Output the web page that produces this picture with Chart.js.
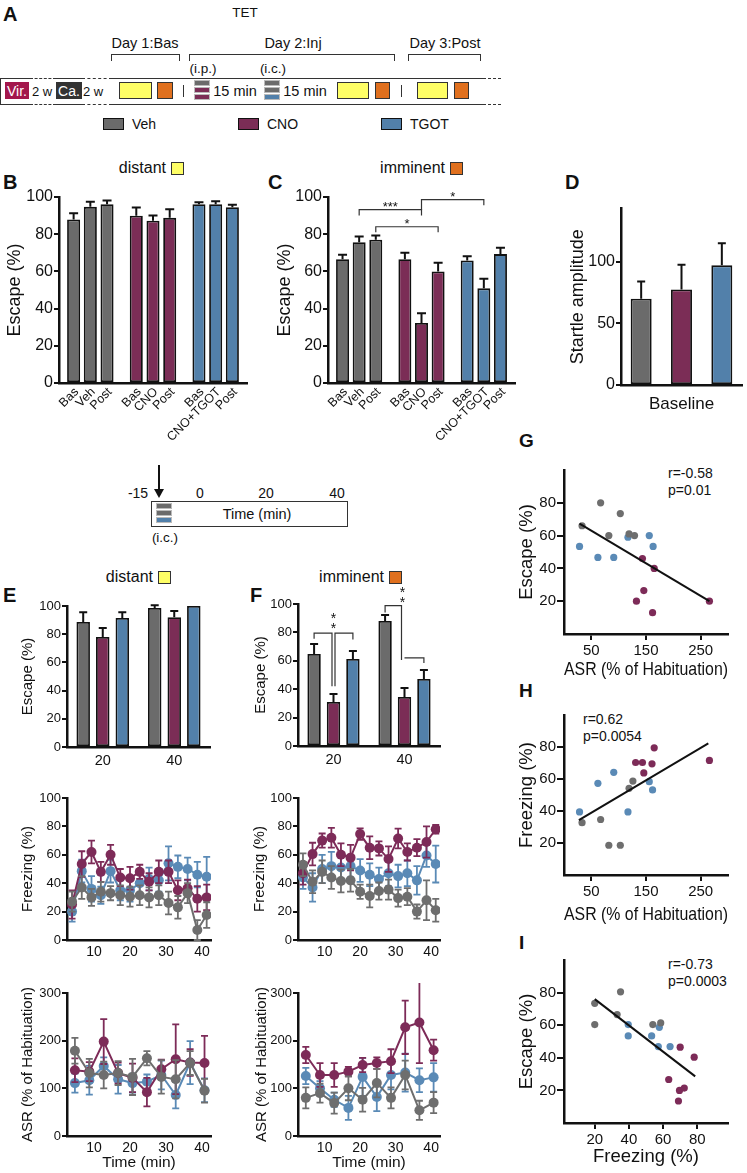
<!DOCTYPE html>
<html><head><meta charset="utf-8"><title>TET figure</title>
<script src="https://cdn.jsdelivr.net/npm/chart.js@4.4.1/dist/chart.umd.min.js"></script>
<style>
html,body{margin:0;padding:0;background:#fff}
body{position:relative;width:747px;height:1173px;overflow:hidden;font-family:'Liberation Sans',Arial,Helvetica,sans-serif;color:#111}
.t{position:absolute;white-space:nowrap;line-height:1}
.b{position:absolute;box-sizing:border-box}
canvas{position:absolute}
</style></head><body>
<script>
// ---- values ----
const groups=['Veh','CNO','TGOT'];
const barTicks=['Bas','Veh','Post','Bas','CNO','Post','Bas','CNO+TGOT','Post'];
const distantDay=[87.9,94.7,96.1, 89.9,87.2,88.8, 96.1,96.1,94.5];
const distantDayErr=[3.4,2.8,2, 4.4,2.8,4.6, 1.1,1.6,1.4];
const imminentDay=[66.5,75.7,77, 66.5,32.3,60, 65.9,50.9,69.3];
const imminentDayErr=[2.5,3,2.3, 3.5,5.2,4.7, 2.3,5.1,3.4];
const startleCats=['Baseline'];
const startle=[70,77.5,97];
const startleErr=[14,20,18];

const blocks=['20','40'];
const distVeh=[88.6,98.6], distVehErr=[7,2];
const distCno=[78,92], distCnoErr=[6.4,4.5];
const distTgot=[91.5,100], distTgotErr=[4,0];
const immVeh=[64.8,88], immVehErr=[7,4.2];
const immCno=[31,34.5], immCnoErr=[5.6,6.3];
const immTgot=[61.3,47.2], immTgotErr=[5.6,6.3];

const timeTicks=[10,20,30,40];
const frzTime=[3.9,6.6,9.3,11.9,14.6,17.3,20,22.7,25.3,28,30.7,33.3,36,38.7,41.3];
const frzDistVeh=[27,37,30,34,33,31.5,30.5,31.5,30,31.5,26,23,33,7,17.6];
const frzDistVehErr=[7,8,6,7,5,7,7,7,7,7,8,8,7,7,9];
const frzDistCno=[25,53.5,62,48,60,44,43.5,48,41,48,48,35,36.5,29,30];
const frzDistCnoErr=[10,9,8,7,7,6,8,5,6,8,8,7,6,9,9];
const frzDistTgot=[20,48.5,36,31.5,48.5,35,35,40,43,42,54,51.5,50,46,44.5];
const frzDistTgotErr=[7,8,9,6,8,7,8,8,8,8,12,8,8,9,14];
const frzImmVeh=[53,41,48,44,41.5,42,34,31,34.5,35.5,29.5,30.5,20,28,21];
const frzImmVehErr=[8,8,8,8,8,8,5,8,6,7,6,6,5,14,8];
const frzImmCno=[47,60.5,70,72,60,58,74.6,65,64.5,57,71.5,62,65,69,78];
const frzImmCnoErr=[8,8,5,7,8,9,4,8,5,9,7,6,6,11,3];
const frzImmTgot=[44,37,50,52,51,52,49,46,43,47,45,47,42,59.5,53.5];
const frzImmTgotErr=[8,10,10,10,9,8,8,8,8,9,8,9,10,8,13];

const asrTime=[4.7,8.7,12.7,16.7,20.7,24.7,28.7,32.7,36.7,40.7];
const asrDistVeh=[179,132,128,132,124,163,124,119,153,95];
const asrDistVehErr=[27,30,28,25,38,15,35,40,25,25];
const asrDistCno=[138,135,198,132,122,92,140,161,154,153];
const asrDistCnoErr=[25,20,47,22,30,30,20,73,28,57];
const asrDistTgot=[111,117,147,119,111,114,128,86,154,96];
const asrDistTgotErr=[20,30,18,30,20,15,30,28,45,25];
const asrImmVeh=[80,90,69,100,76,111,80,128,54,70];
const asrImmVehErr=[22,20,22,25,25,30,22,30,20,22];
const asrImmCno=[170,128,128,135,149,153,157,228,238,180];
const asrImmCnoErr=[17,25,25,10,15,12,25,56,85,22];
const asrImmTgot=[126,100,76,59,124,82,128,133,117,123];
const asrImmTgotErr=[17,15,15,25,40,30,30,40,25,30];

// scatter: [x, y]
const gVeh=[[33,66],[67,80],[82,60],[103,73.4],[119,61],[129,60]];
const gTgot=[[28.4,53.4],[62,46.7],[91,46.7],[117,59],[156,60],[163,53.4]];
const gCno=[[143.5,46],[165,40],[146,26.5],[132.5,20],[162,13],[266,20]];
const gFit=[[28.4,67.3],[266,20]];
const hVeh=[[33,32.7],[67,34.7],[82,18.6],[103,18.6],[119,54.2],[126,58.7]];
const hTgot=[[28.4,39.4],[62,57.3],[91,64.2],[117,39.4],[156,58.3],[162,53.2]];
const hCno=[[131,70.3],[143.5,70.3],[146,63.8],[161,69.5],[165,79.5],[266,71.6]];
const hFit=[[27.2,34.3],[264,82.2]];
const iVeh=[[20,73.4],[20,60.4],[33.1,66.5],[35.1,80.5],[54,60.4],[58.6,61.4]];
const iTgot=[[39.6,60.4],[39.6,53.4],[53.3,53.4],[57.8,58.7],[57.2,46.9],[64.1,46.9]];
const iCno=[[70,46.5],[78.2,40.4],[63.3,26.7],[69.6,20],[72.4,21.4],[69,13.5]];
const iFit=[[20,76],[78.8,28.6]];

// ---- look ----
const BAR={veh:'#6b6b6b',cno:'#7b2d56',tgot:'#5280aa'};
const PT={veh:'#6e6e6e',cno:'#7d2b58',tgot:'#5a8ab6'};
const INK='#111';
Chart.defaults.font.family="'Liberation Sans', Arial, sans-serif";
Chart.defaults.color=INK;

// ---- html helpers ----
function T(x,y,s,size,al,extra){
  const d=document.createElement('div');d.className='t';d.textContent=s;
  d.style.fontSize=size+'px';d.style.left=x+'px';d.style.top=y+'px';
  d.style.transform=al==='c'?'translate(-50%,-50%)':al==='r'?'translate(-100%,-50%)':'translate(0,-50%)';
  if(extra)Object.assign(d.style,extra);
  document.body.appendChild(d);return d;
}
function R(x1,y1,x2,y2,st){
  const d=document.createElement('div');d.className='b';
  Object.assign(d.style,{left:x1+'px',top:y1+'px',width:(x2-x1)+'px',height:(y2-y1)+'px'},st);
  document.body.appendChild(d);return d;
}
const L=(s)=>({fontWeight:'bold'});

// ---- panel A schematic ----
T(3,14,'A',20,'l',L());
T(245,13,'TET',13.5,'c');
T(145,43,'Day 1:Bas',14.5,'c');T(293,43,'Day 2:Inj',14.5,'c');T(445,43,'Day 3:Post',14.5,'c');
[[111,180],[189,395],[408,481]].forEach(([a,b])=>R(a,54,b,61,{borderTop:'1px solid #333',borderLeft:'1px solid #333',borderRight:'1px solid #333'}));
T(203,69,'(i.p.)',13.5,'c');T(273,69,'(i.c.)',13.5,'c');
[78,104].forEach(y=>{
  R(0,y,30,y+1,{background:'#333'});
  R(30,y,56,y+1,{borderTop:'1px dashed #333'});
  R(56,y,82,y+1,{background:'#333'});
  R(82,y,112,y+1,{borderTop:'1px dashed #333'});
  R(112,y,486,y+1,{background:'#333'});
  R(488,y,501,y+1,{borderTop:'1px dashed #333'});
});
R(0,78,1,105,{background:'#333'});
R(5,82,29,99,{background:'#a3174c'});T(17,90.5,'Vir.',14,'c',{color:'#fff'});
T(42,90.5,'2 w',13,'c');
R(56,82,82,99,{background:'#333'});T(69,90.5,'Ca.',14,'c',{color:'#fff'});
T(93,90.5,'2 w',13,'c');
function day(x1,x2,x3,x4){R(x1,82,x2,99,{background:'#ffff66',border:'1px solid #333'});R(x3,82,x4,99,{background:'#e0701e',border:'1px solid #333'});}
day(119,152,157,173);day(337,369,375,390);day(417,448,454,469);
R(183,85,184,97,{background:'#333'});R(401,85,402,97,{background:'#333'});
function stack(x,y,cols){cols.forEach((c,i)=>R(x,y+i*7,x+16,y+i*7+6,{background:c,border:'1px solid #bbb'}));}
stack(194,80,[BAR.veh,BAR.cno,BAR.cno]);T(235,91,'15 min',14.5,'c');
stack(264,80,[BAR.veh,BAR.veh,BAR.tgot]);T(305,91,'15 min',14.5,'c');
[[103,BAR.veh,'Veh'],[238,BAR.cno,'CNO'],[381,BAR.tgot,'TGOT']].forEach(([x,c,s])=>{R(x,118,x+21,130,{background:c,border:'1.5px solid #111'});T(x+29,124,s,14,'l');});

// ---- timeline schematic ----
R(158,465,160,492,{background:'#111'});
R(154,489,164,498,{borderLeft:'5px solid transparent',borderRight:'5px solid transparent',borderTop:'9px solid #111'});
T(138,493,'-15',14,'c');T(200,493,'0',14,'c');T(266,493,'20',14,'c');T(337,493,'40',14,'c');
R(151,501,348,527,{border:'1px solid #333'});
stack(156,503,[BAR.veh,BAR.veh,BAR.tgot]);
T(257,514,'Time (min)',14.5,'c');T(165,538,'(i.c.)',13.5,'c');

// ---- titles / letters ----
T(3,182,'B',20,'l',L());T(268,182,'C',20,'l',L());T(565,182,'D',20,'l',L());
T(3,595,'E',20,'l',L());T(250,595,'F',20,'l',L());
T(519,440,'G',19,'l',L());T(519,690,'H',19,'l',L());T(519,942,'I',19,'l',L());
function tag(xEnd,y,s,col){T(xEnd,y,s,16,'r');R(xEnd+5,y-6.5,xEnd+18,y+6.5,{background:col,border:'1px solid #333'});}
tag(166,168,'distant','#ffff66');tag(445,168,'imminent','#e0701e');
tag(153,577,'distant','#ffff66');tag(384,577,'imminent','#e0701e');
T(668,473,'r=-0.58',14,'l');T(668,490,'p=0.01',14,'l');
T(583,719,'r=0.62',14,'l');T(583,736,'p=0.0054',14,'l');
T(668,964,'r=-0.73',14,'l');T(668,981,'p=0.0003',14,'l');

// ---- chart plugins ----
function drawErr(chart,index,meta,o,both){
  const ds=chart.data.datasets[index];if(!ds.err)return;
  const ctx=chart.ctx,ys=chart.scales.y,hw=o.cap/2;
  ctx.save();ctx.strokeStyle=both?ds.borderColor:INK;ctx.lineWidth=o.lw;
  meta.data.forEach((el,i)=>{
    const e=ds.err[i];if(!e)return;
    const raw=ds.data[i],v=typeof raw==='object'?raw.y:raw;
    const yt=ys.getPixelForValue(v+e),yb=both?ys.getPixelForValue(v-e):el.y;
    ctx.beginPath();ctx.moveTo(el.x,yb);ctx.lineTo(el.x,yt);
    ctx.moveTo(el.x-hw,yt);ctx.lineTo(el.x+hw,yt);
    if(both){ctx.moveTo(el.x-hw,yb);ctx.lineTo(el.x+hw,yb);}
    ctx.stroke();
  });
  ctx.restore();
}
const errBars={id:'errBars',
  beforeDatasetDraw(c,a,o){if(o.both)drawErr(c,a.index,a.meta,o,true);},
  afterDatasetDraw(c,a,o){if(!o.both)drawErr(c,a.index,a.meta,o,false);}};
const barLabels={id:'barLabels',afterDraw(chart,a,o){
  const ctx=chart.ctx,y0=chart.chartArea.bottom;
  ctx.save();ctx.font=o.size+"px 'Liberation Sans', Arial";ctx.fillStyle=INK;ctx.textAlign='right';ctx.textBaseline='middle';
  chart.data.datasets.forEach((ds,j)=>chart.getDatasetMeta(j).data.forEach((bar,i)=>{
    ctx.save();ctx.translate(bar.x+o.dx,y0+o.dy);ctx.rotate(-Math.PI/4);ctx.fillText(o.labels[i*3+j],0,0);ctx.restore();
  }));
  ctx.restore();
}};
const sig={id:'sig',afterDatasetsDraw(chart,a,o){
  const ctx=chart.ctx,ys=chart.scales.y;
  const px=p=>chart.getDatasetMeta(p[1]).data[p[0]].x+(p[2]||0);
  ctx.save();ctx.strokeStyle='#333';ctx.lineWidth=1.2;
  o.brackets.forEach(b=>{
    const xa=px(b.a),xb=px(b.b),yt=ys.getPixelForValue(b.top);
    ctx.beginPath();ctx.moveTo(xa,ys.getPixelForValue(b.endA));ctx.lineTo(xa,yt);ctx.lineTo(xb,yt);ctx.lineTo(xb,ys.getPixelForValue(b.endB));ctx.stroke();
  });
  ctx.fillStyle=INK;ctx.font=o.size+"px 'Liberation Sans', Arial";ctx.textAlign='center';ctx.textBaseline='alphabetic';
  o.stars.forEach(s=>{
    const x=s.b?(px(s.a)+px(s.b))/2:px(s.a);
    ctx.fillText(s.text,x,ys.getPixelForValue(s.v)+o.size*0.58);
  });
  ctx.restore();
}};

// ---- chart helpers ----
function mk(a,cfg){
  const c=document.createElement('canvas');
  const W=a.r-a.l+a.yw+a.pr,H=a.b-a.t+a.pt+a.xh;
  c.width=W;c.height=H;
  Object.assign(c.style,{left:(a.l-a.yw)+'px',top:(a.t-a.pt)+'px',width:W+'px',height:H+'px'});
  document.body.appendChild(c);
  const op=cfg.options;
  op.responsive=false;op.animation=false;op.events=[];
  op.layout={padding:{top:a.pt,right:a.pr,left:0,bottom:0}};
  op.plugins=Object.assign({legend:{display:false},tooltip:{enabled:false}},op.plugins||{});
  op.scales.x.afterFit=s=>{s.height=a.xh;};
  op.scales.y.afterFit=s=>{s.width=a.yw;};
  return new Chart(c,cfg);
}
function yAx(min,max,step,title,tsz,fsz,tl,ticks){
  return {min,max,
    ticks:{stepSize:step,font:{size:tsz},padding:1,color:INK},
    afterBuildTicks:ticks?(s=>{s.ticks=ticks.map(v=>({value:v}));}):undefined,
    grid:{drawOnChartArea:false,tickLength:tl||5,color:INK,lineWidth:2},
    border:{color:INK,width:2.5},
    title:{display:!!title,text:title,font:{size:fsz},padding:0,color:INK}};
}
function xCat(show,tsz,pad){
  return {grid:{display:false,drawTicks:false},border:{color:INK,width:2.5},
    ticks:{display:show,font:{size:tsz||14},padding:pad||4,color:INK,maxRotation:0}};
}
function xLin(min,max,ticks,tsz,pad,title,fsz,tl){
  return {type:'linear',min,max,afterBuildTicks:s=>{s.ticks=ticks.map(v=>({value:v}));},
    grid:{display:!!tl,drawOnChartArea:false,drawTicks:!!tl,tickLength:tl||0,color:INK,lineWidth:2},
    border:{color:INK,width:2.5},
    ticks:{font:{size:tsz},padding:pad,color:INK,maxRotation:0},
    title:{display:!!title,text:title,font:{size:fsz},padding:0,color:INK}};
}
const pick=(arr,j)=>[0,1,2].map(g=>arr[g*3+j]);
const barStyle={borderColor:INK,borderWidth:1.8,borderSkipped:false};

// ---- B and C: day bars ----
function dayBars(a,vals,errs,opts){
  return mk(a,{type:'bar',
    data:{labels:groups,datasets:[0,1,2].map(j=>Object.assign({data:pick(vals,j),err:pick(errs,j),
      backgroundColor:[BAR.veh,BAR.cno,BAR.tgot],categoryPercentage:0.8,barPercentage:0.78},barStyle))},
    options:{scales:{x:xCat(false),y:yAx(0,100,20,'Escape (%)',16,18)},
      plugins:Object.assign({errBars:{both:false,cap:9,lw:2},barLabels:{labels:barTicks,size:12.5,dx:3,dy:7}},opts||{})},
    plugins:[errBars,barLabels].concat(opts?[sig]:[])});
}
dayBars({l:59,t:197,r:247,b:383,yw:55,xh:62,pt:12,pr:5},distantDay,distantDayErr);
dayBars({l:328,t:197,r:515,b:383,yw:54,xh:62,pt:22,pr:5},imminentDay,imminentDayErr,
  {sig:{size:13,
    brackets:[{a:[0,1],b:[1,1],top:93.2,endA:90,endB:90},
              {a:[0,2],b:[1,2],top:84,endA:81,endB:81},
              {a:[1,1],b:[2,1],top:98.6,endA:93,endB:95.5}],
    stars:[{a:[0,1],b:[1,1],v:96.5,text:'***'},{a:[0,2],b:[1,2],v:87.4,text:'*'},{a:[1,1],b:[2,1],v:101.8,text:'*'}]}});

// ---- D: startle ----
mk({l:621,t:208,r:742,b:385,yw:54,xh:32,pt:10,pr:4},{type:'bar',
  data:{labels:startleCats,datasets:[BAR.veh,BAR.cno,BAR.tgot].map((c,j)=>Object.assign({data:[startle[j]],err:[startleErr[j]],
    backgroundColor:c,categoryPercentage:1,barPercentage:0.52},barStyle))},
  options:{scales:{x:xCat(true,17,9),y:yAx(0,143,50,'Startle amplitude',16,18,5,[0,50,100])},
    plugins:{errBars:{both:false,cap:8,lw:2}}},
  plugins:[errBars]});

// ---- E and F: block bars ----
function blockBars(a,sets,opts){
  return mk(a,{type:'bar',
    data:{labels:blocks,datasets:sets.map(([v,e,c])=>Object.assign({data:v,err:e,backgroundColor:c,
      categoryPercentage:0.82,barPercentage:0.69},barStyle))},
    options:{scales:{x:xCat(true,14.5,5),y:yAx(0,100,20,'Escape (%)',13,15)},
      plugins:Object.assign({errBars:{both:false,cap:8,lw:2}},opts||{})},
    plugins:[errBars].concat(opts?[sig]:[])});
}
blockBars({l:67,t:606,r:210,b:747,yw:48,xh:28,pt:10,pr:5},
  [[distVeh,distVehErr,BAR.veh],[distCno,distCnoErr,BAR.cno],[distTgot,distTgotErr,BAR.tgot]]);
blockBars({l:298,t:604,r:440,b:746,yw:46,xh:28,pt:26,pr:5},
  [[immVeh,immVehErr,BAR.veh],[immCno,immCnoErr,BAR.cno],[immTgot,immTgotErr,BAR.tgot]],
  {sig:{size:14,
    brackets:[{a:[0,0],b:[0,1,-1.5],top:79.5,endA:75.5,endB:42},
              {a:[0,1,1.5],b:[0,2],top:79.5,endA:42,endB:75},
              {a:[1,0],b:[1,1,-3],top:98.8,endA:94,endB:60.5},
              {a:[1,1,0],b:[1,2],top:62,endA:62,endB:58.5}],
    stars:[{a:[0,1],v:92.3,text:'*'},{a:[0,1],v:85.2,text:'*'},
           {a:[1,1,-2],v:110.6,text:'*'},{a:[1,1,-2],v:103.5,text:'*'}]}});

// ---- time courses ----
function lineDs(xs,ys,errs,col){
  return {data:xs.map((x,i)=>({x,y:ys[i]})),err:errs,borderColor:col,backgroundColor:col,
    pointBackgroundColor:col,pointRadius:5,pointBorderWidth:0,borderWidth:2,tension:0};
}
function course(a,xs,sets,max,step,title,xTitle){
  return mk(a,{type:'line',
    data:{datasets:sets.map(([v,e,c])=>lineDs(xs,v,e,c))},
    options:{scales:{x:xLin(2.5,42.5,timeTicks,14,4,xTitle,15.5),y:yAx(0,max,step,title,13,15)},
      plugins:{errBars:{both:true,cap:7,lw:1.8}}},
    plugins:[errBars]});
}
course({l:67,t:798,r:211,b:940,yw:48,xh:28,pt:10,pr:8},frzTime,
  [[frzDistVeh,frzDistVehErr,PT.veh],[frzDistCno,frzDistCnoErr,PT.cno],[frzDistTgot,frzDistTgotErr,PT.tgot]],100,20,'Freezing (%)');
course({l:298,t:798,r:440,b:940,yw:47,xh:28,pt:10,pr:8},frzTime,
  [[frzImmVeh,frzImmVehErr,PT.veh],[frzImmCno,frzImmCnoErr,PT.cno],[frzImmTgot,frzImmTgotErr,PT.tgot]],100,20,'Freezing (%)');
course({l:67,t:993,r:211,b:1136,yw:48,xh:36,pt:10,pr:8},asrTime,
  [[asrDistVeh,asrDistVehErr,PT.veh],[asrDistCno,asrDistCnoErr,PT.cno],[asrDistTgot,asrDistTgotErr,PT.tgot]],300,100,'ASR (% of Habituation)','Time (min)');
course({l:298,t:993,r:440,b:1136,yw:45,xh:36,pt:10,pr:8},asrTime,
  [[asrImmVeh,asrImmVehErr,PT.veh],[asrImmCno,asrImmCnoErr,PT.cno],[asrImmTgot,asrImmTgotErr,PT.tgot]],300,100,'ASR (% of Habituation)','Time (min)');

// ---- G, H, I: correlations ----
const pts=(arr)=>arr.map(([x,y])=>({x,y}));
function corr(a,sets,fit,xmin,xmax,xticks,yTitle,xTitle){
  return mk(a,{type:'scatter',
    data:{datasets:[{type:'line',data:pts(fit),borderColor:INK,borderWidth:2,pointRadius:0,showLine:true}]
      .concat(sets.map(([d,c])=>({data:pts(d),backgroundColor:c,pointRadius:3.6,pointBorderWidth:0})))},
    options:{scales:{x:xLin(xmin,xmax,xticks,15,2,xTitle,18.5,6),y:yAx(0,100,20,yTitle,15,18.5,7,[20,40,60,80])}}});
}
corr({l:564,t:470,r:728,b:634,yw:48,xh:47,pt:10,pr:12},[[gVeh,PT.veh],[gTgot,PT.tgot],[gCno,PT.cno]],gFit,0,300,[50,150,250],'Escape (%)','ASR (% of Habituation)');
corr({l:564,t:715,r:728,b:875,yw:48,xh:51,pt:10,pr:12},[[hVeh,PT.veh],[hTgot,PT.tgot],[hCno,PT.cno]],hFit,0,300,[50,150,250],'Freezing (%)','ASR (% of Habituation)');
corr({l:564,t:960,r:728,b:1123,yw:48,xh:45,pt:10,pr:12},[[iVeh,PT.veh],[iTgot,PT.tgot],[iCno,PT.cno]],iFit,2,98,[20,40,60,80],'Escape (%)','Freezing (%)');
</script>
</body></html>
